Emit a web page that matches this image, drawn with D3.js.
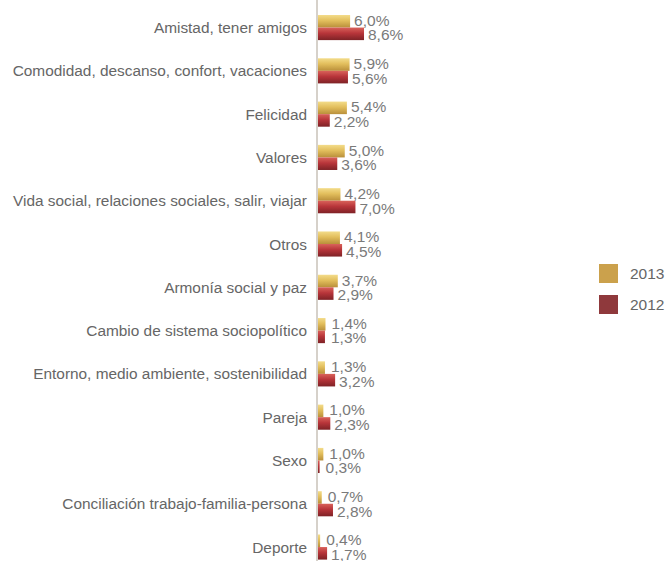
<!DOCTYPE html>
<html><head><meta charset="utf-8">
<script src="https://cdn.jsdelivr.net/npm/d3@7"></script>
<style>body{margin:0;background:#fff}svg{display:block}</style>
</head><body>
<svg id="c" width="669" height="561"></svg>
<script>
const categories = ["Amistad, tener amigos","Comodidad, descanso, confort, vacaciones","Felicidad","Valores","Vida social, relaciones sociales, salir, viajar","Otros","Armonía social y paz","Cambio de sistema sociopolítico","Entorno, medio ambiente, sostenibilidad","Pareja","Sexo","Conciliación trabajo-familia-persona","Deporte"];
const v2013 = [6.0,5.9,5.4,5.0,4.2,4.1,3.7,1.4,1.3,1.0,1.0,0.7,0.4];
const v2012 = [8.6,5.6,2.2,3.6,7.0,4.5,2.9,1.3,3.2,2.3,0.3,2.8,1.7];
const seriesNames = ["2013","2012"];
const colors = ["#CBA14C","#8F393C"];

const svg = d3.select("#c");
const font = "'Liberation Sans', Arial, sans-serif";
const x = d3.scaleLinear().domain([0,10]).range([318, 318+53.5]);
const y = d3.scaleBand().domain(categories).range([15, 559.6]).paddingInner(0.42).paddingOuter(0);
const sub = d3.scaleBand().domain(seriesNames).range([0, y.bandwidth()]).padding(0);

const defs = svg.append("defs");
const g1 = defs.append("linearGradient").attr("id","gy").attr("x1",0).attr("y1",0).attr("x2",0).attr("y2",1);
[["0%","#F3DC8A"],["45%","#E2BE5C"],["100%","#B98F3A"]].forEach(([o,c])=>g1.append("stop").attr("offset",o).attr("stop-color",c));
const g2 = defs.append("linearGradient").attr("id","gr").attr("x1",0).attr("y1",0).attr("x2",0).attr("y2",1);
[["0%","#D9625A"],["45%","#B8353A"],["100%","#7E2226"]].forEach(([o,c])=>g2.append("stop").attr("offset",o).attr("stop-color",c));
const fills = ["url(#gy)","url(#gr)"];

// axis line
svg.append("line").attr("x1",x(0)-1).attr("x2",x(0)-1).attr("y1",0).attr("y2",561)
  .attr("stroke","#c9c2b8").attr("stroke-width",1.5);

const rows = svg.append("g").selectAll("g").data(categories).join("g")
  .attr("transform", d=>`translate(0,${y(d)})`);

rows.append("text").attr("x",307).attr("y",y.bandwidth()/2).attr("dy","0.36em")
  .attr("text-anchor","end").attr("font-family",font)
  .attr("font-size",15.4).attr("fill","#666").text(d=>d);

[v2013, v2012].forEach((vals, si)=>{
  const s = seriesNames[si];
  rows.append("rect").attr("x",x(0)).attr("y",sub(s))
    .attr("width",(d,i)=>x(vals[i])-x(0)).attr("height",sub.bandwidth())
    .attr("fill",fills[si]);
  rows.append("text").attr("x",(d,i)=>x(vals[i])+ (vals[i]<1.5?6:4))
    .attr("y",sub(s)+sub.bandwidth()/2 + (si===0?-1:1)).attr("dy","0.36em")
    .attr("font-family",font).attr("font-size",15.5).attr("fill","#7a7a7a")
    .text((d,i)=>d3.format(".1f")(vals[i]).replace(".",",")+"%");
});

// legend
const leg = svg.append("g").selectAll("g").data(seriesNames).join("g")
  .attr("transform",(d,i)=>`translate(599,${264+i*31})`);
leg.append("rect").attr("width",19).attr("height",19).attr("fill",(d,i)=>colors[i]);
leg.append("text").attr("x",31).attr("y",9.5).attr("dy","0.36em").attr("font-family",font)
  .attr("font-size",15.5).attr("fill","#666").text(d=>d);
</script>
</body></html>
